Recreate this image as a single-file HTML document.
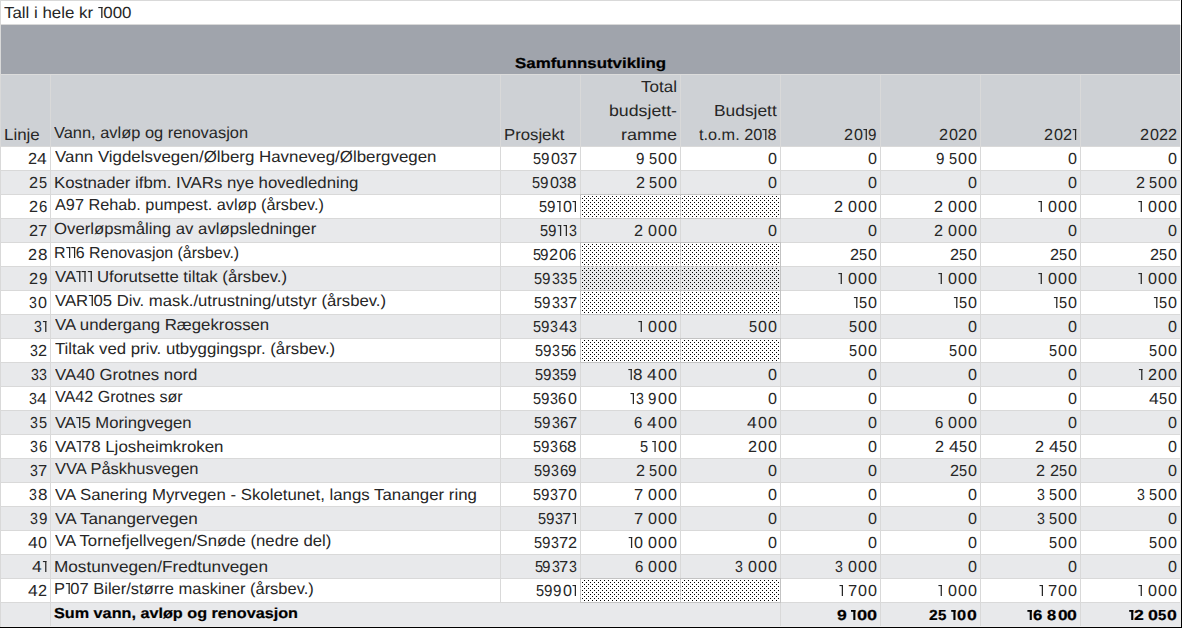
<!DOCTYPE html>
<html><head><meta charset="utf-8"><style>
html,body{margin:0;padding:0;}
body{width:1182px;height:628px;overflow:hidden;position:relative;background:#fff;font-family:'Liberation Sans', sans-serif;}
body>div{position:absolute;}
.t{position:absolute;font-size:16.0px;line-height:20px;text-rendering:geometricPrecision;white-space:pre;color:#262626;transform-origin:0 0;font-family:'Liberation Sans', sans-serif;}.b{font-weight:bold;font-size:14.5px;color:#000;-webkit-text-stroke:0.2px #000;}.o1{vertical-align:baseline;fill:currentColor;}
</style></head><body>
<div style="left:0px;top:25px;width:1180px;height:49px;background:#a0a4ac"></div>
<div style="left:0px;top:75px;width:1180px;height:71px;background:#ced1d5"></div>
<div style="left:0px;top:171px;width:1180px;height:23px;background:#e8e9eb"></div>
<div style="left:0px;top:219px;width:1180px;height:23px;background:#e8e9eb"></div>
<div style="left:0px;top:267px;width:1180px;height:23px;background:#e8e9eb"></div>
<div style="left:0px;top:315px;width:1180px;height:23px;background:#e8e9eb"></div>
<div style="left:0px;top:363px;width:1180px;height:23px;background:#e8e9eb"></div>
<div style="left:0px;top:411px;width:1180px;height:23px;background:#e8e9eb"></div>
<div style="left:0px;top:459px;width:1180px;height:23px;background:#e8e9eb"></div>
<div style="left:0px;top:507px;width:1180px;height:23px;background:#e8e9eb"></div>
<div style="left:0px;top:555px;width:1180px;height:23px;background:#e8e9eb"></div>
<div style="left:0px;top:603px;width:1180px;height:23px;background:#e8e9eb"></div>
<div style="left:0px;top:0px;width:1180px;height:1px;background:#d9d9d9"></div>
<div style="left:0px;top:24px;width:1180px;height:1px;background:#d9d9d9"></div>
<div style="left:0px;top:74px;width:1180px;height:1px;background:#dcdcdc"></div>
<div style="left:0px;top:146px;width:1180px;height:1px;background:#d9d9d9"></div>
<div style="left:0px;top:170px;width:1180px;height:1px;background:#d9d9d9"></div>
<div style="left:0px;top:194px;width:1180px;height:1px;background:#d9d9d9"></div>
<div style="left:0px;top:218px;width:1180px;height:1px;background:#d9d9d9"></div>
<div style="left:0px;top:242px;width:1180px;height:1px;background:#d9d9d9"></div>
<div style="left:0px;top:266px;width:1180px;height:1px;background:#d9d9d9"></div>
<div style="left:0px;top:290px;width:1180px;height:1px;background:#d9d9d9"></div>
<div style="left:0px;top:314px;width:1180px;height:1px;background:#d9d9d9"></div>
<div style="left:0px;top:338px;width:1180px;height:1px;background:#d9d9d9"></div>
<div style="left:0px;top:362px;width:1180px;height:1px;background:#d9d9d9"></div>
<div style="left:0px;top:386px;width:1180px;height:1px;background:#d9d9d9"></div>
<div style="left:0px;top:410px;width:1180px;height:1px;background:#d9d9d9"></div>
<div style="left:0px;top:434px;width:1180px;height:1px;background:#d9d9d9"></div>
<div style="left:0px;top:458px;width:1180px;height:1px;background:#d9d9d9"></div>
<div style="left:0px;top:482px;width:1180px;height:1px;background:#d9d9d9"></div>
<div style="left:0px;top:506px;width:1180px;height:1px;background:#d9d9d9"></div>
<div style="left:0px;top:530px;width:1180px;height:1px;background:#d9d9d9"></div>
<div style="left:0px;top:554px;width:1180px;height:1px;background:#d9d9d9"></div>
<div style="left:0px;top:578px;width:1180px;height:1px;background:#d9d9d9"></div>
<div style="left:0px;top:602px;width:1180px;height:1px;background:#d9d9d9"></div>
<div style="left:0px;top:626px;width:1181px;height:1px;background:#ececec"></div>
<div style="left:0px;top:0px;width:1px;height:627px;background:#d9d9d9"></div>
<div style="left:50px;top:75px;width:1px;height:551px;background:#d9d9d9"></div>
<div style="left:500px;top:75px;width:1px;height:527px;background:#d9d9d9"></div>
<div style="left:580px;top:75px;width:1px;height:527px;background:#d9d9d9"></div>
<div style="left:680px;top:75px;width:1px;height:527px;background:#d9d9d9"></div>
<div style="left:780px;top:75px;width:1px;height:551px;background:#d9d9d9"></div>
<div style="left:880px;top:75px;width:1px;height:551px;background:#d9d9d9"></div>
<div style="left:980px;top:75px;width:1px;height:551px;background:#d9d9d9"></div>
<div style="left:1080px;top:75px;width:1px;height:551px;background:#d9d9d9"></div>
<div style="left:1180px;top:25px;width:1px;height:601px;background:#e6e6e6"></div>
<div style="left:1181px;top:0px;width:1px;height:628px;background:#000"></div>
<div style="left:0px;top:627px;width:1182px;height:1px;background:#000"></div>
<svg width="1182" height="628" style="position:absolute;left:0;top:0" shape-rendering="crispEdges"><defs><pattern id="dp" width="4" height="4" patternUnits="userSpaceOnUse"><rect x="0" y="0" width="1" height="1" fill="#000"/><rect x="2" y="2" width="1" height="1" fill="#000"/></pattern></defs><rect x="581" y="195" width="199" height="23" fill="url(#dp)"/><rect x="580" y="194" width="201" height="1" fill="#c3c3c3"/><rect x="580" y="218" width="201" height="1" fill="#c3c3c3"/><rect x="580" y="194" width="1" height="25" fill="#c3c3c3"/><rect x="680" y="194" width="1" height="25" fill="#c3c3c3"/><rect x="780" y="194" width="1" height="25" fill="#c3c3c3"/><rect x="581" y="243" width="199" height="23" fill="url(#dp)"/><rect x="580" y="242" width="201" height="1" fill="#c3c3c3"/><rect x="580" y="266" width="201" height="1" fill="#c3c3c3"/><rect x="580" y="242" width="1" height="25" fill="#c3c3c3"/><rect x="680" y="242" width="1" height="25" fill="#c3c3c3"/><rect x="780" y="242" width="1" height="25" fill="#c3c3c3"/><rect x="581" y="267" width="199" height="23" fill="url(#dp)"/><rect x="580" y="266" width="201" height="1" fill="#c3c3c3"/><rect x="580" y="290" width="201" height="1" fill="#c3c3c3"/><rect x="580" y="266" width="1" height="25" fill="#c3c3c3"/><rect x="680" y="266" width="1" height="25" fill="#c3c3c3"/><rect x="780" y="266" width="1" height="25" fill="#c3c3c3"/><rect x="581" y="291" width="199" height="23" fill="url(#dp)"/><rect x="580" y="290" width="201" height="1" fill="#c3c3c3"/><rect x="580" y="314" width="201" height="1" fill="#c3c3c3"/><rect x="580" y="290" width="1" height="25" fill="#c3c3c3"/><rect x="680" y="290" width="1" height="25" fill="#c3c3c3"/><rect x="780" y="290" width="1" height="25" fill="#c3c3c3"/><rect x="581" y="339" width="199" height="23" fill="url(#dp)"/><rect x="580" y="338" width="201" height="1" fill="#c3c3c3"/><rect x="580" y="362" width="201" height="1" fill="#c3c3c3"/><rect x="580" y="338" width="1" height="25" fill="#c3c3c3"/><rect x="680" y="338" width="1" height="25" fill="#c3c3c3"/><rect x="780" y="338" width="1" height="25" fill="#c3c3c3"/><rect x="581" y="579" width="199" height="23" fill="url(#dp)"/><rect x="580" y="578" width="201" height="1" fill="#c3c3c3"/><rect x="580" y="602" width="201" height="1" fill="#c3c3c3"/><rect x="580" y="578" width="1" height="25" fill="#c3c3c3"/><rect x="680" y="578" width="1" height="25" fill="#c3c3c3"/><rect x="780" y="578" width="1" height="25" fill="#c3c3c3"/></svg>
<div class="t" style="left:4.01px;top:4.00px;transform:scaleX(1.0552)">Tall i hele kr <svg class="o1" width="5.2" height="11" viewBox="0 0 5.2 11"><rect x="0.35" y="0" width="4.0" height="1.1"/><rect x="3.1" y="0" width="1.25" height="11"/></svg>000</div>
<div class="t b" style="left:514.68px;top:54.00px;transform:scaleX(1.1652)">Samfunnsutvikling</div>
<div class="t" style="left:3.90px;top:126.00px;transform:scaleX(1.0567)">Linje</div>
<div class="t" style="left:54.09px;top:124.00px;transform:scaleX(1.0260)">Vann, avløp og renovasjon</div>
<div class="t" style="left:503.71px;top:126.00px;transform:scaleX(1.0456)">Prosjekt</div>
<div class="t" style="left:641.20px;top:78.00px;transform:scaleX(1.0637)">Total</div>
<div class="t" style="left:608.91px;top:102.00px;transform:scaleX(1.1083)">budsjett-</div>
<div class="t" style="left:620.74px;top:126.00px;transform:scaleX(1.1249)">ramme</div>
<div class="t" style="left:713.56px;top:102.00px;transform:scaleX(1.0847)">Budsjett</div>
<div class="t" style="left:699.16px;top:126.00px;transform:scaleX(1.0163)">t.o.m. 20<svg class="o1" width="5.2" height="11" viewBox="0 0 5.2 11"><rect x="0.35" y="0" width="4.0" height="1.1"/><rect x="3.1" y="0" width="1.25" height="11"/></svg>8</div>
<div class="t" style="left:843.68px;top:126.00px;transform:scaleX(1.0152)">2</div>
<div class="t" style="left:853.67px;top:126.00px;transform:scaleX(1.0067)">0</div>
<div class="t" style="left:868.49px;top:126.00px;transform:scaleX(0.9471)">9</div>
<div class="t" style="left:938.98px;top:126.00px;transform:scaleX(1.0152)">2</div>
<div class="t" style="left:948.97px;top:126.00px;transform:scaleX(1.0067)">0</div>
<div class="t" style="left:957.88px;top:126.00px;transform:scaleX(1.0152)">2</div>
<div class="t" style="left:967.87px;top:126.00px;transform:scaleX(1.0067)">0</div>
<div class="t" style="left:1043.78px;top:126.00px;transform:scaleX(1.0152)">2</div>
<div class="t" style="left:1053.77px;top:126.00px;transform:scaleX(1.0067)">0</div>
<div class="t" style="left:1062.68px;top:126.00px;transform:scaleX(1.0152)">2</div>
<div class="t" style="left:1139.88px;top:126.00px;transform:scaleX(1.0152)">2</div>
<div class="t" style="left:1149.87px;top:126.00px;transform:scaleX(1.0067)">0</div>
<div class="t" style="left:1158.78px;top:126.00px;transform:scaleX(1.0152)">2</div>
<div class="t" style="left:1167.98px;top:126.00px;transform:scaleX(1.0152)">2</div>
<div class="t" style="left:27.58px;top:150.00px;transform:scaleX(1.0152)">2</div>
<div class="t" style="left:37.20px;top:150.00px;transform:scaleX(1.0915)">4</div>
<div class="t" style="left:54.58px;top:148.00px;transform:scaleX(1.0554)">Vann Vigdelsvegen/Ølberg Havneveg/Ølbergvegen</div>
<div class="t" style="left:533.22px;top:150.00px;transform:scaleX(0.9096)">5</div>
<div class="t" style="left:541.09px;top:150.00px;transform:scaleX(0.9471)">9</div>
<div class="t" style="left:550.87px;top:150.00px;transform:scaleX(1.0067)">0</div>
<div class="t" style="left:560.06px;top:150.00px;transform:scaleX(0.8832)">3</div>
<div class="t" style="left:567.65px;top:150.00px;transform:scaleX(1.0311)">7</div>
<div class="t" style="left:636.09px;top:150.00px;transform:scaleX(0.9471)">9</div>
<div class="t" style="left:649.42px;top:150.00px;transform:scaleX(0.9096)">5</div>
<div class="t" style="left:657.97px;top:150.00px;transform:scaleX(1.0067)">0</div>
<div class="t" style="left:667.67px;top:150.00px;transform:scaleX(1.0067)">0</div>
<div class="t" style="left:767.67px;top:150.00px;transform:scaleX(1.0067)">0</div>
<div class="t" style="left:867.67px;top:150.00px;transform:scaleX(1.0067)">0</div>
<div class="t" style="left:936.09px;top:150.00px;transform:scaleX(0.9471)">9</div>
<div class="t" style="left:949.42px;top:150.00px;transform:scaleX(0.9096)">5</div>
<div class="t" style="left:957.97px;top:150.00px;transform:scaleX(1.0067)">0</div>
<div class="t" style="left:967.67px;top:150.00px;transform:scaleX(1.0067)">0</div>
<div class="t" style="left:1067.67px;top:150.00px;transform:scaleX(1.0067)">0</div>
<div class="t" style="left:1167.67px;top:150.00px;transform:scaleX(1.0067)">0</div>
<div class="t" style="left:29.48px;top:174.00px;transform:scaleX(1.0152)">2</div>
<div class="t" style="left:38.92px;top:174.00px;transform:scaleX(0.9096)">5</div>
<div class="t" style="left:54.31px;top:174.00px;transform:scaleX(1.0474)">Kostnader ifbm. IVARs nye hovedledning</div>
<div class="t" style="left:532.12px;top:174.00px;transform:scaleX(0.9096)">5</div>
<div class="t" style="left:539.99px;top:174.00px;transform:scaleX(0.9471)">9</div>
<div class="t" style="left:549.77px;top:174.00px;transform:scaleX(1.0067)">0</div>
<div class="t" style="left:558.96px;top:174.00px;transform:scaleX(0.8832)">3</div>
<div class="t" style="left:567.26px;top:174.00px;transform:scaleX(1.0656)">8</div>
<div class="t" style="left:635.88px;top:174.00px;transform:scaleX(1.0152)">2</div>
<div class="t" style="left:649.42px;top:174.00px;transform:scaleX(0.9096)">5</div>
<div class="t" style="left:657.97px;top:174.00px;transform:scaleX(1.0067)">0</div>
<div class="t" style="left:667.67px;top:174.00px;transform:scaleX(1.0067)">0</div>
<div class="t" style="left:767.67px;top:174.00px;transform:scaleX(1.0067)">0</div>
<div class="t" style="left:867.67px;top:174.00px;transform:scaleX(1.0067)">0</div>
<div class="t" style="left:967.67px;top:174.00px;transform:scaleX(1.0067)">0</div>
<div class="t" style="left:1067.67px;top:174.00px;transform:scaleX(1.0067)">0</div>
<div class="t" style="left:1135.88px;top:174.00px;transform:scaleX(1.0152)">2</div>
<div class="t" style="left:1149.42px;top:174.00px;transform:scaleX(0.9096)">5</div>
<div class="t" style="left:1157.97px;top:174.00px;transform:scaleX(1.0067)">0</div>
<div class="t" style="left:1167.67px;top:174.00px;transform:scaleX(1.0067)">0</div>
<div class="t" style="left:29.48px;top:198.00px;transform:scaleX(1.0152)">2</div>
<div class="t" style="left:38.74px;top:198.00px;transform:scaleX(0.9346)">6</div>
<div class="t" style="left:54.64px;top:196.00px;transform:scaleX(1.0158)">A97 Rehab. pumpest. avløp (årsbev.)</div>
<div class="t" style="left:539.32px;top:198.00px;transform:scaleX(0.9096)">5</div>
<div class="t" style="left:547.19px;top:198.00px;transform:scaleX(0.9471)">9</div>
<div class="t" style="left:562.77px;top:198.00px;transform:scaleX(1.0067)">0</div>
<div class="t" style="left:834.18px;top:198.00px;transform:scaleX(1.0152)">2</div>
<div class="t" style="left:848.27px;top:198.00px;transform:scaleX(1.0067)">0</div>
<div class="t" style="left:857.97px;top:198.00px;transform:scaleX(1.0067)">0</div>
<div class="t" style="left:867.67px;top:198.00px;transform:scaleX(1.0067)">0</div>
<div class="t" style="left:934.18px;top:198.00px;transform:scaleX(1.0152)">2</div>
<div class="t" style="left:948.27px;top:198.00px;transform:scaleX(1.0067)">0</div>
<div class="t" style="left:957.97px;top:198.00px;transform:scaleX(1.0067)">0</div>
<div class="t" style="left:967.67px;top:198.00px;transform:scaleX(1.0067)">0</div>
<div class="t" style="left:1048.27px;top:198.00px;transform:scaleX(1.0067)">0</div>
<div class="t" style="left:1057.97px;top:198.00px;transform:scaleX(1.0067)">0</div>
<div class="t" style="left:1067.67px;top:198.00px;transform:scaleX(1.0067)">0</div>
<div class="t" style="left:1148.27px;top:198.00px;transform:scaleX(1.0067)">0</div>
<div class="t" style="left:1157.97px;top:198.00px;transform:scaleX(1.0067)">0</div>
<div class="t" style="left:1167.67px;top:198.00px;transform:scaleX(1.0067)">0</div>
<div class="t" style="left:29.48px;top:222.00px;transform:scaleX(1.0152)">2</div>
<div class="t" style="left:38.05px;top:222.00px;transform:scaleX(1.0311)">7</div>
<div class="t" style="left:54.07px;top:220.00px;transform:scaleX(1.0456)">Overløpsmåling av avløpsledninger</div>
<div class="t" style="left:540.02px;top:222.00px;transform:scaleX(0.9096)">5</div>
<div class="t" style="left:547.89px;top:222.00px;transform:scaleX(0.9471)">9</div>
<div class="t" style="left:568.76px;top:222.00px;transform:scaleX(0.8832)">3</div>
<div class="t" style="left:634.18px;top:222.00px;transform:scaleX(1.0152)">2</div>
<div class="t" style="left:648.27px;top:222.00px;transform:scaleX(1.0067)">0</div>
<div class="t" style="left:657.97px;top:222.00px;transform:scaleX(1.0067)">0</div>
<div class="t" style="left:667.67px;top:222.00px;transform:scaleX(1.0067)">0</div>
<div class="t" style="left:767.67px;top:222.00px;transform:scaleX(1.0067)">0</div>
<div class="t" style="left:867.67px;top:222.00px;transform:scaleX(1.0067)">0</div>
<div class="t" style="left:934.18px;top:222.00px;transform:scaleX(1.0152)">2</div>
<div class="t" style="left:948.27px;top:222.00px;transform:scaleX(1.0067)">0</div>
<div class="t" style="left:957.97px;top:222.00px;transform:scaleX(1.0067)">0</div>
<div class="t" style="left:967.67px;top:222.00px;transform:scaleX(1.0067)">0</div>
<div class="t" style="left:1067.67px;top:222.00px;transform:scaleX(1.0067)">0</div>
<div class="t" style="left:1167.67px;top:222.00px;transform:scaleX(1.0067)">0</div>
<div class="t" style="left:28.38px;top:246.00px;transform:scaleX(1.0152)">2</div>
<div class="t" style="left:37.66px;top:246.00px;transform:scaleX(1.0656)">8</div>
<div class="t" style="left:54.38px;top:244.00px;transform:scaleX(0.9944)">R<svg class="o1" width="5.2" height="11" viewBox="0 0 5.2 11"><rect x="0.35" y="0" width="4.0" height="1.1"/><rect x="3.1" y="0" width="1.25" height="11"/></svg><svg class="o1" width="5.2" height="11" viewBox="0 0 5.2 11"><rect x="0.35" y="0" width="4.0" height="1.1"/><rect x="3.1" y="0" width="1.25" height="11"/></svg>6 Renovasjon (årsbev.)</div>
<div class="t" style="left:532.52px;top:246.00px;transform:scaleX(0.9096)">5</div>
<div class="t" style="left:540.39px;top:246.00px;transform:scaleX(0.9471)">9</div>
<div class="t" style="left:549.38px;top:246.00px;transform:scaleX(1.0152)">2</div>
<div class="t" style="left:559.37px;top:246.00px;transform:scaleX(1.0067)">0</div>
<div class="t" style="left:568.34px;top:246.00px;transform:scaleX(0.9346)">6</div>
<div class="t" style="left:849.68px;top:246.00px;transform:scaleX(1.0152)">2</div>
<div class="t" style="left:859.12px;top:246.00px;transform:scaleX(0.9096)">5</div>
<div class="t" style="left:867.67px;top:246.00px;transform:scaleX(1.0067)">0</div>
<div class="t" style="left:949.68px;top:246.00px;transform:scaleX(1.0152)">2</div>
<div class="t" style="left:959.12px;top:246.00px;transform:scaleX(0.9096)">5</div>
<div class="t" style="left:967.67px;top:246.00px;transform:scaleX(1.0067)">0</div>
<div class="t" style="left:1049.68px;top:246.00px;transform:scaleX(1.0152)">2</div>
<div class="t" style="left:1059.12px;top:246.00px;transform:scaleX(0.9096)">5</div>
<div class="t" style="left:1067.67px;top:246.00px;transform:scaleX(1.0067)">0</div>
<div class="t" style="left:1149.68px;top:246.00px;transform:scaleX(1.0152)">2</div>
<div class="t" style="left:1159.12px;top:246.00px;transform:scaleX(0.9096)">5</div>
<div class="t" style="left:1167.67px;top:246.00px;transform:scaleX(1.0067)">0</div>
<div class="t" style="left:29.38px;top:270.00px;transform:scaleX(1.0152)">2</div>
<div class="t" style="left:38.69px;top:270.00px;transform:scaleX(0.9471)">9</div>
<div class="t" style="left:54.58px;top:268.00px;transform:scaleX(1.0446)">VA<svg class="o1" width="5.2" height="11" viewBox="0 0 5.2 11"><rect x="0.35" y="0" width="4.0" height="1.1"/><rect x="3.1" y="0" width="1.25" height="11"/></svg><svg class="o1" width="5.2" height="11" viewBox="0 0 5.2 11"><rect x="0.35" y="0" width="4.0" height="1.1"/><rect x="3.1" y="0" width="1.25" height="11"/></svg><svg class="o1" width="5.2" height="11" viewBox="0 0 5.2 11"><rect x="0.35" y="0" width="4.0" height="1.1"/><rect x="3.1" y="0" width="1.25" height="11"/></svg> Uforutsette tiltak (årsbev.)</div>
<div class="t" style="left:534.42px;top:270.00px;transform:scaleX(0.9096)">5</div>
<div class="t" style="left:542.29px;top:270.00px;transform:scaleX(0.9471)">9</div>
<div class="t" style="left:551.56px;top:270.00px;transform:scaleX(0.8832)">3</div>
<div class="t" style="left:560.06px;top:270.00px;transform:scaleX(0.8832)">3</div>
<div class="t" style="left:568.52px;top:270.00px;transform:scaleX(0.9096)">5</div>
<div class="t" style="left:848.27px;top:270.00px;transform:scaleX(1.0067)">0</div>
<div class="t" style="left:857.97px;top:270.00px;transform:scaleX(1.0067)">0</div>
<div class="t" style="left:867.67px;top:270.00px;transform:scaleX(1.0067)">0</div>
<div class="t" style="left:948.27px;top:270.00px;transform:scaleX(1.0067)">0</div>
<div class="t" style="left:957.97px;top:270.00px;transform:scaleX(1.0067)">0</div>
<div class="t" style="left:967.67px;top:270.00px;transform:scaleX(1.0067)">0</div>
<div class="t" style="left:1048.27px;top:270.00px;transform:scaleX(1.0067)">0</div>
<div class="t" style="left:1057.97px;top:270.00px;transform:scaleX(1.0067)">0</div>
<div class="t" style="left:1067.67px;top:270.00px;transform:scaleX(1.0067)">0</div>
<div class="t" style="left:1148.27px;top:270.00px;transform:scaleX(1.0067)">0</div>
<div class="t" style="left:1157.97px;top:270.00px;transform:scaleX(1.0067)">0</div>
<div class="t" style="left:1167.67px;top:270.00px;transform:scaleX(1.0067)">0</div>
<div class="t" style="left:29.06px;top:294.00px;transform:scaleX(0.8832)">3</div>
<div class="t" style="left:38.07px;top:294.00px;transform:scaleX(1.0067)">0</div>
<div class="t" style="left:54.58px;top:292.00px;transform:scaleX(1.0433)">VAR<svg class="o1" width="5.2" height="11" viewBox="0 0 5.2 11"><rect x="0.35" y="0" width="4.0" height="1.1"/><rect x="3.1" y="0" width="1.25" height="11"/></svg>05 Div. mask./utrustning/utstyr (årsbev.)</div>
<div class="t" style="left:534.42px;top:294.00px;transform:scaleX(0.9096)">5</div>
<div class="t" style="left:542.29px;top:294.00px;transform:scaleX(0.9471)">9</div>
<div class="t" style="left:551.56px;top:294.00px;transform:scaleX(0.8832)">3</div>
<div class="t" style="left:560.06px;top:294.00px;transform:scaleX(0.8832)">3</div>
<div class="t" style="left:567.65px;top:294.00px;transform:scaleX(1.0311)">7</div>
<div class="t" style="left:859.12px;top:294.00px;transform:scaleX(0.9096)">5</div>
<div class="t" style="left:867.67px;top:294.00px;transform:scaleX(1.0067)">0</div>
<div class="t" style="left:959.12px;top:294.00px;transform:scaleX(0.9096)">5</div>
<div class="t" style="left:967.67px;top:294.00px;transform:scaleX(1.0067)">0</div>
<div class="t" style="left:1059.12px;top:294.00px;transform:scaleX(0.9096)">5</div>
<div class="t" style="left:1067.67px;top:294.00px;transform:scaleX(1.0067)">0</div>
<div class="t" style="left:1159.12px;top:294.00px;transform:scaleX(0.9096)">5</div>
<div class="t" style="left:1167.67px;top:294.00px;transform:scaleX(1.0067)">0</div>
<div class="t" style="left:33.86px;top:318.00px;transform:scaleX(0.8832)">3</div>
<div class="t" style="left:54.58px;top:316.00px;transform:scaleX(1.0485)">VA undergang Rægekrossen</div>
<div class="t" style="left:532.97px;top:318.00px;transform:scaleX(0.9096)">5</div>
<div class="t" style="left:540.84px;top:318.00px;transform:scaleX(0.9471)">9</div>
<div class="t" style="left:550.11px;top:318.00px;transform:scaleX(0.8832)">3</div>
<div class="t" style="left:558.75px;top:318.00px;transform:scaleX(1.0915)">4</div>
<div class="t" style="left:568.76px;top:318.00px;transform:scaleX(0.8832)">3</div>
<div class="t" style="left:648.27px;top:318.00px;transform:scaleX(1.0067)">0</div>
<div class="t" style="left:657.97px;top:318.00px;transform:scaleX(1.0067)">0</div>
<div class="t" style="left:667.67px;top:318.00px;transform:scaleX(1.0067)">0</div>
<div class="t" style="left:749.42px;top:318.00px;transform:scaleX(0.9096)">5</div>
<div class="t" style="left:757.97px;top:318.00px;transform:scaleX(1.0067)">0</div>
<div class="t" style="left:767.67px;top:318.00px;transform:scaleX(1.0067)">0</div>
<div class="t" style="left:849.42px;top:318.00px;transform:scaleX(0.9096)">5</div>
<div class="t" style="left:857.97px;top:318.00px;transform:scaleX(1.0067)">0</div>
<div class="t" style="left:867.67px;top:318.00px;transform:scaleX(1.0067)">0</div>
<div class="t" style="left:967.67px;top:318.00px;transform:scaleX(1.0067)">0</div>
<div class="t" style="left:1067.67px;top:318.00px;transform:scaleX(1.0067)">0</div>
<div class="t" style="left:1167.67px;top:318.00px;transform:scaleX(1.0067)">0</div>
<div class="t" style="left:29.96px;top:342.00px;transform:scaleX(0.8832)">3</div>
<div class="t" style="left:38.18px;top:342.00px;transform:scaleX(1.0152)">2</div>
<div class="t" style="left:54.51px;top:340.00px;transform:scaleX(1.0480)">Tiltak ved priv. utbyggingspr. (årsbev.)</div>
<div class="t" style="left:534.92px;top:342.00px;transform:scaleX(0.9096)">5</div>
<div class="t" style="left:542.79px;top:342.00px;transform:scaleX(0.9471)">9</div>
<div class="t" style="left:552.06px;top:342.00px;transform:scaleX(0.8832)">3</div>
<div class="t" style="left:560.52px;top:342.00px;transform:scaleX(0.9096)">5</div>
<div class="t" style="left:568.34px;top:342.00px;transform:scaleX(0.9346)">6</div>
<div class="t" style="left:849.42px;top:342.00px;transform:scaleX(0.9096)">5</div>
<div class="t" style="left:857.97px;top:342.00px;transform:scaleX(1.0067)">0</div>
<div class="t" style="left:867.67px;top:342.00px;transform:scaleX(1.0067)">0</div>
<div class="t" style="left:949.42px;top:342.00px;transform:scaleX(0.9096)">5</div>
<div class="t" style="left:957.97px;top:342.00px;transform:scaleX(1.0067)">0</div>
<div class="t" style="left:967.67px;top:342.00px;transform:scaleX(1.0067)">0</div>
<div class="t" style="left:1049.42px;top:342.00px;transform:scaleX(0.9096)">5</div>
<div class="t" style="left:1057.97px;top:342.00px;transform:scaleX(1.0067)">0</div>
<div class="t" style="left:1067.67px;top:342.00px;transform:scaleX(1.0067)">0</div>
<div class="t" style="left:1149.42px;top:342.00px;transform:scaleX(0.9096)">5</div>
<div class="t" style="left:1157.97px;top:342.00px;transform:scaleX(1.0067)">0</div>
<div class="t" style="left:1167.67px;top:342.00px;transform:scaleX(1.0067)">0</div>
<div class="t" style="left:30.66px;top:366.00px;transform:scaleX(0.8832)">3</div>
<div class="t" style="left:39.16px;top:366.00px;transform:scaleX(0.8832)">3</div>
<div class="t" style="left:54.58px;top:366.00px;transform:scaleX(1.0489)">VA40 Grotnes nord</div>
<div class="t" style="left:534.82px;top:366.00px;transform:scaleX(0.9096)">5</div>
<div class="t" style="left:542.69px;top:366.00px;transform:scaleX(0.9471)">9</div>
<div class="t" style="left:551.96px;top:366.00px;transform:scaleX(0.8832)">3</div>
<div class="t" style="left:560.42px;top:366.00px;transform:scaleX(0.9096)">5</div>
<div class="t" style="left:568.29px;top:366.00px;transform:scaleX(0.9471)">9</div>
<div class="t" style="left:633.41px;top:366.00px;transform:scaleX(1.0656)">8</div>
<div class="t" style="left:647.45px;top:366.00px;transform:scaleX(1.0915)">4</div>
<div class="t" style="left:657.97px;top:366.00px;transform:scaleX(1.0067)">0</div>
<div class="t" style="left:667.67px;top:366.00px;transform:scaleX(1.0067)">0</div>
<div class="t" style="left:767.67px;top:366.00px;transform:scaleX(1.0067)">0</div>
<div class="t" style="left:867.67px;top:366.00px;transform:scaleX(1.0067)">0</div>
<div class="t" style="left:967.67px;top:366.00px;transform:scaleX(1.0067)">0</div>
<div class="t" style="left:1067.67px;top:366.00px;transform:scaleX(1.0067)">0</div>
<div class="t" style="left:1147.98px;top:366.00px;transform:scaleX(1.0152)">2</div>
<div class="t" style="left:1157.97px;top:366.00px;transform:scaleX(1.0067)">0</div>
<div class="t" style="left:1167.67px;top:366.00px;transform:scaleX(1.0067)">0</div>
<div class="t" style="left:28.56px;top:390.00px;transform:scaleX(0.8832)">3</div>
<div class="t" style="left:37.20px;top:390.00px;transform:scaleX(1.0915)">4</div>
<div class="t" style="left:54.60px;top:388.00px;transform:scaleX(1.0062)">VA42 Grotnes sør</div>
<div class="t" style="left:533.02px;top:390.00px;transform:scaleX(0.9096)">5</div>
<div class="t" style="left:540.89px;top:390.00px;transform:scaleX(0.9471)">9</div>
<div class="t" style="left:550.16px;top:390.00px;transform:scaleX(0.8832)">3</div>
<div class="t" style="left:558.44px;top:390.00px;transform:scaleX(0.9346)">6</div>
<div class="t" style="left:567.67px;top:390.00px;transform:scaleX(1.0067)">0</div>
<div class="t" style="left:635.76px;top:390.00px;transform:scaleX(0.8832)">3</div>
<div class="t" style="left:648.19px;top:390.00px;transform:scaleX(0.9471)">9</div>
<div class="t" style="left:657.97px;top:390.00px;transform:scaleX(1.0067)">0</div>
<div class="t" style="left:667.67px;top:390.00px;transform:scaleX(1.0067)">0</div>
<div class="t" style="left:767.67px;top:390.00px;transform:scaleX(1.0067)">0</div>
<div class="t" style="left:867.67px;top:390.00px;transform:scaleX(1.0067)">0</div>
<div class="t" style="left:967.67px;top:390.00px;transform:scaleX(1.0067)">0</div>
<div class="t" style="left:1067.67px;top:390.00px;transform:scaleX(1.0067)">0</div>
<div class="t" style="left:1149.15px;top:390.00px;transform:scaleX(1.0915)">4</div>
<div class="t" style="left:1159.12px;top:390.00px;transform:scaleX(0.9096)">5</div>
<div class="t" style="left:1167.67px;top:390.00px;transform:scaleX(1.0067)">0</div>
<div class="t" style="left:30.46px;top:414.00px;transform:scaleX(0.8832)">3</div>
<div class="t" style="left:38.92px;top:414.00px;transform:scaleX(0.9096)">5</div>
<div class="t" style="left:54.59px;top:414.00px;transform:scaleX(1.0408)">VA<svg class="o1" width="5.2" height="11" viewBox="0 0 5.2 11"><rect x="0.35" y="0" width="4.0" height="1.1"/><rect x="3.1" y="0" width="1.25" height="11"/></svg>5 Moringvegen</div>
<div class="t" style="left:534.42px;top:414.00px;transform:scaleX(0.9096)">5</div>
<div class="t" style="left:542.29px;top:414.00px;transform:scaleX(0.9471)">9</div>
<div class="t" style="left:551.56px;top:414.00px;transform:scaleX(0.8832)">3</div>
<div class="t" style="left:559.84px;top:414.00px;transform:scaleX(0.9346)">6</div>
<div class="t" style="left:567.65px;top:414.00px;transform:scaleX(1.0311)">7</div>
<div class="t" style="left:634.49px;top:414.00px;transform:scaleX(0.9346)">6</div>
<div class="t" style="left:647.45px;top:414.00px;transform:scaleX(1.0915)">4</div>
<div class="t" style="left:657.97px;top:414.00px;transform:scaleX(1.0067)">0</div>
<div class="t" style="left:667.67px;top:414.00px;transform:scaleX(1.0067)">0</div>
<div class="t" style="left:747.45px;top:414.00px;transform:scaleX(1.0915)">4</div>
<div class="t" style="left:757.97px;top:414.00px;transform:scaleX(1.0067)">0</div>
<div class="t" style="left:767.67px;top:414.00px;transform:scaleX(1.0067)">0</div>
<div class="t" style="left:867.67px;top:414.00px;transform:scaleX(1.0067)">0</div>
<div class="t" style="left:934.94px;top:414.00px;transform:scaleX(0.9346)">6</div>
<div class="t" style="left:948.27px;top:414.00px;transform:scaleX(1.0067)">0</div>
<div class="t" style="left:957.97px;top:414.00px;transform:scaleX(1.0067)">0</div>
<div class="t" style="left:967.67px;top:414.00px;transform:scaleX(1.0067)">0</div>
<div class="t" style="left:1067.67px;top:414.00px;transform:scaleX(1.0067)">0</div>
<div class="t" style="left:1167.67px;top:414.00px;transform:scaleX(1.0067)">0</div>
<div class="t" style="left:30.46px;top:438.00px;transform:scaleX(0.8832)">3</div>
<div class="t" style="left:38.74px;top:438.00px;transform:scaleX(0.9346)">6</div>
<div class="t" style="left:54.58px;top:438.00px;transform:scaleX(1.0556)">VA<svg class="o1" width="5.2" height="11" viewBox="0 0 5.2 11"><rect x="0.35" y="0" width="4.0" height="1.1"/><rect x="3.1" y="0" width="1.25" height="11"/></svg>78 Ljosheimkroken</div>
<div class="t" style="left:533.32px;top:438.00px;transform:scaleX(0.9096)">5</div>
<div class="t" style="left:541.19px;top:438.00px;transform:scaleX(0.9471)">9</div>
<div class="t" style="left:550.46px;top:438.00px;transform:scaleX(0.8832)">3</div>
<div class="t" style="left:558.74px;top:438.00px;transform:scaleX(0.9346)">6</div>
<div class="t" style="left:567.26px;top:438.00px;transform:scaleX(1.0656)">8</div>
<div class="t" style="left:639.52px;top:438.00px;transform:scaleX(0.9096)">5</div>
<div class="t" style="left:657.97px;top:438.00px;transform:scaleX(1.0067)">0</div>
<div class="t" style="left:667.67px;top:438.00px;transform:scaleX(1.0067)">0</div>
<div class="t" style="left:747.98px;top:438.00px;transform:scaleX(1.0152)">2</div>
<div class="t" style="left:757.97px;top:438.00px;transform:scaleX(1.0067)">0</div>
<div class="t" style="left:767.67px;top:438.00px;transform:scaleX(1.0067)">0</div>
<div class="t" style="left:867.67px;top:438.00px;transform:scaleX(1.0067)">0</div>
<div class="t" style="left:935.43px;top:438.00px;transform:scaleX(1.0152)">2</div>
<div class="t" style="left:949.15px;top:438.00px;transform:scaleX(1.0915)">4</div>
<div class="t" style="left:959.12px;top:438.00px;transform:scaleX(0.9096)">5</div>
<div class="t" style="left:967.67px;top:438.00px;transform:scaleX(1.0067)">0</div>
<div class="t" style="left:1035.43px;top:438.00px;transform:scaleX(1.0152)">2</div>
<div class="t" style="left:1049.15px;top:438.00px;transform:scaleX(1.0915)">4</div>
<div class="t" style="left:1059.12px;top:438.00px;transform:scaleX(0.9096)">5</div>
<div class="t" style="left:1067.67px;top:438.00px;transform:scaleX(1.0067)">0</div>
<div class="t" style="left:1167.67px;top:438.00px;transform:scaleX(1.0067)">0</div>
<div class="t" style="left:30.46px;top:462.00px;transform:scaleX(0.8832)">3</div>
<div class="t" style="left:38.05px;top:462.00px;transform:scaleX(1.0311)">7</div>
<div class="t" style="left:54.59px;top:460.00px;transform:scaleX(1.0300)">VVA Påskhusvegen</div>
<div class="t" style="left:534.32px;top:462.00px;transform:scaleX(0.9096)">5</div>
<div class="t" style="left:542.19px;top:462.00px;transform:scaleX(0.9471)">9</div>
<div class="t" style="left:551.46px;top:462.00px;transform:scaleX(0.8832)">3</div>
<div class="t" style="left:559.74px;top:462.00px;transform:scaleX(0.9346)">6</div>
<div class="t" style="left:568.29px;top:462.00px;transform:scaleX(0.9471)">9</div>
<div class="t" style="left:635.88px;top:462.00px;transform:scaleX(1.0152)">2</div>
<div class="t" style="left:649.42px;top:462.00px;transform:scaleX(0.9096)">5</div>
<div class="t" style="left:657.97px;top:462.00px;transform:scaleX(1.0067)">0</div>
<div class="t" style="left:667.67px;top:462.00px;transform:scaleX(1.0067)">0</div>
<div class="t" style="left:767.67px;top:462.00px;transform:scaleX(1.0067)">0</div>
<div class="t" style="left:867.67px;top:462.00px;transform:scaleX(1.0067)">0</div>
<div class="t" style="left:949.68px;top:462.00px;transform:scaleX(1.0152)">2</div>
<div class="t" style="left:959.12px;top:462.00px;transform:scaleX(0.9096)">5</div>
<div class="t" style="left:967.67px;top:462.00px;transform:scaleX(1.0067)">0</div>
<div class="t" style="left:1036.38px;top:462.00px;transform:scaleX(1.0152)">2</div>
<div class="t" style="left:1049.68px;top:462.00px;transform:scaleX(1.0152)">2</div>
<div class="t" style="left:1059.12px;top:462.00px;transform:scaleX(0.9096)">5</div>
<div class="t" style="left:1067.67px;top:462.00px;transform:scaleX(1.0067)">0</div>
<div class="t" style="left:1167.67px;top:462.00px;transform:scaleX(1.0067)">0</div>
<div class="t" style="left:29.36px;top:486.00px;transform:scaleX(0.8832)">3</div>
<div class="t" style="left:37.66px;top:486.00px;transform:scaleX(1.0656)">8</div>
<div class="t" style="left:54.58px;top:486.00px;transform:scaleX(1.0509)">VA Sanering Myrvegen - Skoletunet, langs Tananger ring</div>
<div class="t" style="left:532.92px;top:486.00px;transform:scaleX(0.9096)">5</div>
<div class="t" style="left:540.79px;top:486.00px;transform:scaleX(0.9471)">9</div>
<div class="t" style="left:550.06px;top:486.00px;transform:scaleX(0.8832)">3</div>
<div class="t" style="left:557.65px;top:486.00px;transform:scaleX(1.0311)">7</div>
<div class="t" style="left:567.67px;top:486.00px;transform:scaleX(1.0067)">0</div>
<div class="t" style="left:634.15px;top:486.00px;transform:scaleX(1.0311)">7</div>
<div class="t" style="left:648.27px;top:486.00px;transform:scaleX(1.0067)">0</div>
<div class="t" style="left:657.97px;top:486.00px;transform:scaleX(1.0067)">0</div>
<div class="t" style="left:667.67px;top:486.00px;transform:scaleX(1.0067)">0</div>
<div class="t" style="left:767.67px;top:486.00px;transform:scaleX(1.0067)">0</div>
<div class="t" style="left:867.67px;top:486.00px;transform:scaleX(1.0067)">0</div>
<div class="t" style="left:967.67px;top:486.00px;transform:scaleX(1.0067)">0</div>
<div class="t" style="left:1036.86px;top:486.00px;transform:scaleX(0.8832)">3</div>
<div class="t" style="left:1049.42px;top:486.00px;transform:scaleX(0.9096)">5</div>
<div class="t" style="left:1057.97px;top:486.00px;transform:scaleX(1.0067)">0</div>
<div class="t" style="left:1067.67px;top:486.00px;transform:scaleX(1.0067)">0</div>
<div class="t" style="left:1136.86px;top:486.00px;transform:scaleX(0.8832)">3</div>
<div class="t" style="left:1149.42px;top:486.00px;transform:scaleX(0.9096)">5</div>
<div class="t" style="left:1157.97px;top:486.00px;transform:scaleX(1.0067)">0</div>
<div class="t" style="left:1167.67px;top:486.00px;transform:scaleX(1.0067)">0</div>
<div class="t" style="left:30.36px;top:510.00px;transform:scaleX(0.8832)">3</div>
<div class="t" style="left:38.69px;top:510.00px;transform:scaleX(0.9471)">9</div>
<div class="t" style="left:54.58px;top:510.00px;transform:scaleX(1.0681)">VA Tanangervegen</div>
<div class="t" style="left:537.72px;top:510.00px;transform:scaleX(0.9096)">5</div>
<div class="t" style="left:545.59px;top:510.00px;transform:scaleX(0.9471)">9</div>
<div class="t" style="left:554.86px;top:510.00px;transform:scaleX(0.8832)">3</div>
<div class="t" style="left:562.45px;top:510.00px;transform:scaleX(1.0311)">7</div>
<div class="t" style="left:634.15px;top:510.00px;transform:scaleX(1.0311)">7</div>
<div class="t" style="left:648.27px;top:510.00px;transform:scaleX(1.0067)">0</div>
<div class="t" style="left:657.97px;top:510.00px;transform:scaleX(1.0067)">0</div>
<div class="t" style="left:667.67px;top:510.00px;transform:scaleX(1.0067)">0</div>
<div class="t" style="left:767.67px;top:510.00px;transform:scaleX(1.0067)">0</div>
<div class="t" style="left:867.67px;top:510.00px;transform:scaleX(1.0067)">0</div>
<div class="t" style="left:967.67px;top:510.00px;transform:scaleX(1.0067)">0</div>
<div class="t" style="left:1036.86px;top:510.00px;transform:scaleX(0.8832)">3</div>
<div class="t" style="left:1049.42px;top:510.00px;transform:scaleX(0.9096)">5</div>
<div class="t" style="left:1057.97px;top:510.00px;transform:scaleX(1.0067)">0</div>
<div class="t" style="left:1067.67px;top:510.00px;transform:scaleX(1.0067)">0</div>
<div class="t" style="left:1167.67px;top:510.00px;transform:scaleX(1.0067)">0</div>
<div class="t" style="left:27.55px;top:534.00px;transform:scaleX(1.0915)">4</div>
<div class="t" style="left:38.07px;top:534.00px;transform:scaleX(1.0067)">0</div>
<div class="t" style="left:54.58px;top:532.00px;transform:scaleX(1.0450)">VA Tornefjellvegen/Snøde (nedre del)</div>
<div class="t" style="left:533.82px;top:534.00px;transform:scaleX(0.9096)">5</div>
<div class="t" style="left:541.69px;top:534.00px;transform:scaleX(0.9471)">9</div>
<div class="t" style="left:550.96px;top:534.00px;transform:scaleX(0.8832)">3</div>
<div class="t" style="left:558.55px;top:534.00px;transform:scaleX(1.0311)">7</div>
<div class="t" style="left:567.78px;top:534.00px;transform:scaleX(1.0152)">2</div>
<div class="t" style="left:634.47px;top:534.00px;transform:scaleX(1.0067)">0</div>
<div class="t" style="left:648.27px;top:534.00px;transform:scaleX(1.0067)">0</div>
<div class="t" style="left:657.97px;top:534.00px;transform:scaleX(1.0067)">0</div>
<div class="t" style="left:667.67px;top:534.00px;transform:scaleX(1.0067)">0</div>
<div class="t" style="left:767.67px;top:534.00px;transform:scaleX(1.0067)">0</div>
<div class="t" style="left:867.67px;top:534.00px;transform:scaleX(1.0067)">0</div>
<div class="t" style="left:967.67px;top:534.00px;transform:scaleX(1.0067)">0</div>
<div class="t" style="left:1049.42px;top:534.00px;transform:scaleX(0.9096)">5</div>
<div class="t" style="left:1057.97px;top:534.00px;transform:scaleX(1.0067)">0</div>
<div class="t" style="left:1067.67px;top:534.00px;transform:scaleX(1.0067)">0</div>
<div class="t" style="left:1149.42px;top:534.00px;transform:scaleX(0.9096)">5</div>
<div class="t" style="left:1157.97px;top:534.00px;transform:scaleX(1.0067)">0</div>
<div class="t" style="left:1167.67px;top:534.00px;transform:scaleX(1.0067)">0</div>
<div class="t" style="left:32.35px;top:558.00px;transform:scaleX(1.0915)">4</div>
<div class="t" style="left:54.27px;top:558.00px;transform:scaleX(1.0738)">Mostunvegen/Fredtunvegen</div>
<div class="t" style="left:534.52px;top:558.00px;transform:scaleX(0.9096)">5</div>
<div class="t" style="left:542.39px;top:558.00px;transform:scaleX(0.9471)">9</div>
<div class="t" style="left:551.66px;top:558.00px;transform:scaleX(0.8832)">3</div>
<div class="t" style="left:559.25px;top:558.00px;transform:scaleX(1.0311)">7</div>
<div class="t" style="left:568.76px;top:558.00px;transform:scaleX(0.8832)">3</div>
<div class="t" style="left:634.94px;top:558.00px;transform:scaleX(0.9346)">6</div>
<div class="t" style="left:648.27px;top:558.00px;transform:scaleX(1.0067)">0</div>
<div class="t" style="left:657.97px;top:558.00px;transform:scaleX(1.0067)">0</div>
<div class="t" style="left:667.67px;top:558.00px;transform:scaleX(1.0067)">0</div>
<div class="t" style="left:735.16px;top:558.00px;transform:scaleX(0.8832)">3</div>
<div class="t" style="left:748.27px;top:558.00px;transform:scaleX(1.0067)">0</div>
<div class="t" style="left:757.97px;top:558.00px;transform:scaleX(1.0067)">0</div>
<div class="t" style="left:767.67px;top:558.00px;transform:scaleX(1.0067)">0</div>
<div class="t" style="left:835.16px;top:558.00px;transform:scaleX(0.8832)">3</div>
<div class="t" style="left:848.27px;top:558.00px;transform:scaleX(1.0067)">0</div>
<div class="t" style="left:857.97px;top:558.00px;transform:scaleX(1.0067)">0</div>
<div class="t" style="left:867.67px;top:558.00px;transform:scaleX(1.0067)">0</div>
<div class="t" style="left:967.67px;top:558.00px;transform:scaleX(1.0067)">0</div>
<div class="t" style="left:1067.67px;top:558.00px;transform:scaleX(1.0067)">0</div>
<div class="t" style="left:1167.67px;top:558.00px;transform:scaleX(1.0067)">0</div>
<div class="t" style="left:28.45px;top:582.00px;transform:scaleX(1.0915)">4</div>
<div class="t" style="left:38.18px;top:582.00px;transform:scaleX(1.0152)">2</div>
<div class="t" style="left:54.33px;top:580.00px;transform:scaleX(1.0307)">P<svg class="o1" width="5.2" height="11" viewBox="0 0 5.2 11"><rect x="0.35" y="0" width="4.0" height="1.1"/><rect x="3.1" y="0" width="1.25" height="11"/></svg>07 Biler/større maskiner (årsbev.)</div>
<div class="t" style="left:536.02px;top:582.00px;transform:scaleX(0.9096)">5</div>
<div class="t" style="left:543.89px;top:582.00px;transform:scaleX(0.9471)">9</div>
<div class="t" style="left:552.99px;top:582.00px;transform:scaleX(0.9471)">9</div>
<div class="t" style="left:562.77px;top:582.00px;transform:scaleX(1.0067)">0</div>
<div class="t" style="left:847.95px;top:582.00px;transform:scaleX(1.0311)">7</div>
<div class="t" style="left:857.97px;top:582.00px;transform:scaleX(1.0067)">0</div>
<div class="t" style="left:867.67px;top:582.00px;transform:scaleX(1.0067)">0</div>
<div class="t" style="left:948.27px;top:582.00px;transform:scaleX(1.0067)">0</div>
<div class="t" style="left:957.97px;top:582.00px;transform:scaleX(1.0067)">0</div>
<div class="t" style="left:967.67px;top:582.00px;transform:scaleX(1.0067)">0</div>
<div class="t" style="left:1047.95px;top:582.00px;transform:scaleX(1.0311)">7</div>
<div class="t" style="left:1057.97px;top:582.00px;transform:scaleX(1.0067)">0</div>
<div class="t" style="left:1067.67px;top:582.00px;transform:scaleX(1.0067)">0</div>
<div class="t" style="left:1148.27px;top:582.00px;transform:scaleX(1.0067)">0</div>
<div class="t" style="left:1157.97px;top:582.00px;transform:scaleX(1.0067)">0</div>
<div class="t" style="left:1167.67px;top:582.00px;transform:scaleX(1.0067)">0</div>
<div class="t b" style="left:54.10px;top:604.00px;transform:scaleX(1.1174)">Sum vann, avløp og renovasjon</div>
<div class="t b" style="left:836.59px;top:606.00px;transform:scaleX(1.2102)">9</div>
<div class="t b" style="left:856.88px;top:606.00px;transform:scaleX(1.2616)">0</div>
<div class="t b" style="left:867.08px;top:606.00px;transform:scaleX(1.2471)">0</div>
<div class="t b" style="left:928.96px;top:606.00px;transform:scaleX(1.0744)">2</div>
<div class="t b" style="left:937.94px;top:606.00px;transform:scaleX(1.0396)">5</div>
<div class="t b" style="left:957.15px;top:606.00px;transform:scaleX(1.1311)">0</div>
<div class="t b" style="left:966.70px;top:606.00px;transform:scaleX(1.2181)">0</div>
<div class="t b" style="left:1033.19px;top:606.00px;transform:scaleX(1.1556)">6</div>
<div class="t b" style="left:1047.48px;top:606.00px;transform:scaleX(1.1316)">8</div>
<div class="t b" style="left:1057.72px;top:606.00px;transform:scaleX(1.1891)">0</div>
<div class="t b" style="left:1067.10px;top:606.00px;transform:scaleX(1.2181)">0</div>
<div class="t b" style="left:1134.39px;top:606.00px;transform:scaleX(1.2176)">2</div>
<div class="t b" style="left:1147.99px;top:606.00px;transform:scaleX(1.2326)">0</div>
<div class="t b" style="left:1158.44px;top:606.00px;transform:scaleX(1.0257)">5</div>
<div class="t b" style="left:1167.10px;top:606.00px;transform:scaleX(1.2181)">0</div>
<svg width="1182" height="628" style="position:absolute;left:0;top:0"><rect x="863.40" y="129.00" width="3.50" height="1.1" fill="#262626"/><rect x="865.65" y="129.00" width="1.25" height="11.0" fill="#262626"/><rect x="1072.70" y="129.00" width="3.50" height="1.1" fill="#262626"/><rect x="1074.95" y="129.00" width="1.25" height="11.0" fill="#262626"/><rect x="557.00" y="201.00" width="3.50" height="1.1" fill="#262626"/><rect x="559.25" y="201.00" width="1.25" height="11.0" fill="#262626"/><rect x="572.50" y="201.00" width="3.50" height="1.1" fill="#262626"/><rect x="574.75" y="201.00" width="1.25" height="11.0" fill="#262626"/><rect x="1038.40" y="201.00" width="3.50" height="1.1" fill="#262626"/><rect x="1040.65" y="201.00" width="1.25" height="11.0" fill="#262626"/><rect x="1138.40" y="201.00" width="3.50" height="1.1" fill="#262626"/><rect x="1140.65" y="201.00" width="1.25" height="11.0" fill="#262626"/><rect x="557.70" y="225.00" width="3.50" height="1.1" fill="#262626"/><rect x="559.95" y="225.00" width="1.25" height="11.0" fill="#262626"/><rect x="563.50" y="225.00" width="3.50" height="1.1" fill="#262626"/><rect x="565.75" y="225.00" width="1.25" height="11.0" fill="#262626"/><rect x="838.40" y="273.00" width="3.50" height="1.1" fill="#262626"/><rect x="840.65" y="273.00" width="1.25" height="11.0" fill="#262626"/><rect x="938.40" y="273.00" width="3.50" height="1.1" fill="#262626"/><rect x="940.65" y="273.00" width="1.25" height="11.0" fill="#262626"/><rect x="1038.40" y="273.00" width="3.50" height="1.1" fill="#262626"/><rect x="1040.65" y="273.00" width="1.25" height="11.0" fill="#262626"/><rect x="1138.40" y="273.00" width="3.50" height="1.1" fill="#262626"/><rect x="1140.65" y="273.00" width="1.25" height="11.0" fill="#262626"/><rect x="853.90" y="297.00" width="3.50" height="1.1" fill="#262626"/><rect x="856.15" y="297.00" width="1.25" height="11.0" fill="#262626"/><rect x="953.90" y="297.00" width="3.50" height="1.1" fill="#262626"/><rect x="956.15" y="297.00" width="1.25" height="11.0" fill="#262626"/><rect x="1053.90" y="297.00" width="3.50" height="1.1" fill="#262626"/><rect x="1056.15" y="297.00" width="1.25" height="11.0" fill="#262626"/><rect x="1153.90" y="297.00" width="3.50" height="1.1" fill="#262626"/><rect x="1156.15" y="297.00" width="1.25" height="11.0" fill="#262626"/><rect x="42.90" y="321.00" width="3.50" height="1.1" fill="#262626"/><rect x="45.15" y="321.00" width="1.25" height="11.0" fill="#262626"/><rect x="638.40" y="321.00" width="3.50" height="1.1" fill="#262626"/><rect x="640.65" y="321.00" width="1.25" height="11.0" fill="#262626"/><rect x="628.35" y="369.00" width="3.50" height="1.1" fill="#262626"/><rect x="630.60" y="369.00" width="1.25" height="11.0" fill="#262626"/><rect x="1138.90" y="369.00" width="3.50" height="1.1" fill="#262626"/><rect x="1141.15" y="369.00" width="1.25" height="11.0" fill="#262626"/><rect x="630.50" y="393.00" width="3.50" height="1.1" fill="#262626"/><rect x="632.75" y="393.00" width="1.25" height="11.0" fill="#262626"/><rect x="652.20" y="441.00" width="3.50" height="1.1" fill="#262626"/><rect x="654.45" y="441.00" width="1.25" height="11.0" fill="#262626"/><rect x="572.50" y="513.00" width="3.50" height="1.1" fill="#262626"/><rect x="574.75" y="513.00" width="1.25" height="11.0" fill="#262626"/><rect x="628.70" y="537.00" width="3.50" height="1.1" fill="#262626"/><rect x="630.95" y="537.00" width="1.25" height="11.0" fill="#262626"/><rect x="42.90" y="561.00" width="3.50" height="1.1" fill="#262626"/><rect x="45.15" y="561.00" width="1.25" height="11.0" fill="#262626"/><rect x="572.50" y="585.00" width="3.50" height="1.1" fill="#262626"/><rect x="574.75" y="585.00" width="1.25" height="11.0" fill="#262626"/><rect x="839.50" y="585.00" width="3.50" height="1.1" fill="#262626"/><rect x="841.75" y="585.00" width="1.25" height="11.0" fill="#262626"/><rect x="938.40" y="585.00" width="3.50" height="1.1" fill="#262626"/><rect x="940.65" y="585.00" width="1.25" height="11.0" fill="#262626"/><rect x="1039.50" y="585.00" width="3.50" height="1.1" fill="#262626"/><rect x="1041.75" y="585.00" width="1.25" height="11.0" fill="#262626"/><rect x="1138.40" y="585.00" width="3.50" height="1.1" fill="#262626"/><rect x="1140.65" y="585.00" width="1.25" height="11.0" fill="#262626"/><rect x="851.00" y="610.00" width="4.40" height="1.8" fill="#000"/><rect x="853.30" y="610.00" width="2.1" height="10.0" fill="#000"/><rect x="951.20" y="610.00" width="4.30" height="1.8" fill="#000"/><rect x="953.40" y="610.00" width="2.1" height="10.0" fill="#000"/><rect x="1027.40" y="610.00" width="4.40" height="1.8" fill="#000"/><rect x="1029.70" y="610.00" width="2.1" height="10.0" fill="#000"/><rect x="1129.20" y="610.00" width="4.10" height="1.8" fill="#000"/><rect x="1131.20" y="610.00" width="2.1" height="10.0" fill="#000"/></svg>
</body></html>
